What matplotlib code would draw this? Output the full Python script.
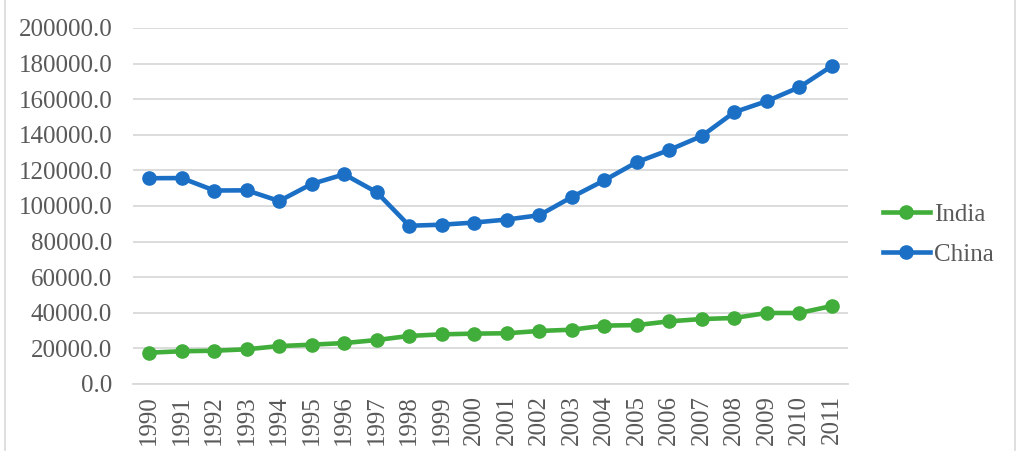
#!/usr/bin/env python3

import matplotlib
matplotlib.use('Agg')
import matplotlib.pyplot as plt
from matplotlib.lines import Line2D

years = [str(y) for y in range(1990, 2012)]

india = [17600, 18400, 18700, 19500, 21300, 22100, 23000, 24700, 27000, 27900, 28300,
         28500, 29800, 30500, 32800, 33100, 35200, 36500, 37100, 39900, 39900, 43800]
china = [115600, 115700, 108700, 108800, 102800, 112400, 117800, 107700, 88900, 89500, 90700,
         92400, 94800, 105000, 114400, 124600, 131500, 139300, 152700, 158900, 166700, 178600]

y_ticks = list(range(0, 200001, 20000))


def main():
    plt.rcParams['font.family'] = ['Liberation Serif', 'DejaVu Serif']

    fig = plt.figure(figsize=(10.24, 4.63), dpi=100)
    ax = fig.add_axes([133 / 1024, 1 - 384 / 463, (848 - 133) / 1024, (384 - 28) / 463])

    x = list(range(len(years)))
    ax.plot(x, india, color='#41ad3a', lw=3.3, marker='o', ms=9.5, label='India')
    ax.plot(x, china, color='#1b70c6', lw=3.3, marker='o', ms=9.5, label='China')

    ax.set_xlim(-0.5, len(years) - 0.5)
    ax.set_ylim(0, 200000)
    ax.set_yticks(y_ticks)
    ax.set_yticklabels(['%.1f' % v for v in y_ticks])
    ax.set_xticks(x)
    ax.set_xticklabels(years, rotation=90)

    ax.grid(axis='y', color='#d9d9d9', lw=1.3)
    ax.set_axisbelow(True)
    for side in ['top', 'right', 'left']:
        ax.spines[side].set_visible(False)
    ax.spines['bottom'].set_color('#d9d9d9')
    ax.spines['bottom'].set_linewidth(1.3)
    ax.tick_params(axis='both', length=0, labelsize=18, colors='#595959', pad=15)
    ax.tick_params(axis='x', pad=8)

    ax.legend(loc='center left', bbox_to_anchor=(1.017, 0.42), frameon=False,
              fontsize=18, labelcolor='#595959', handlelength=1.9,
              handletextpad=0.15, labelspacing=0.7)

    # kehys
    fig.add_artist(Line2D([5 / 1024, 5 / 1024], [1, 1 - 450 / 463], color='#d9d9d9', lw=1.2))
    fig.add_artist(Line2D([1015 / 1024, 1015 / 1024], [1, 1 - 450 / 463], color='#d9d9d9', lw=1.2))

    fig.savefig('out.png', dpi=100)


if __name__ == "__main__":
    main()
